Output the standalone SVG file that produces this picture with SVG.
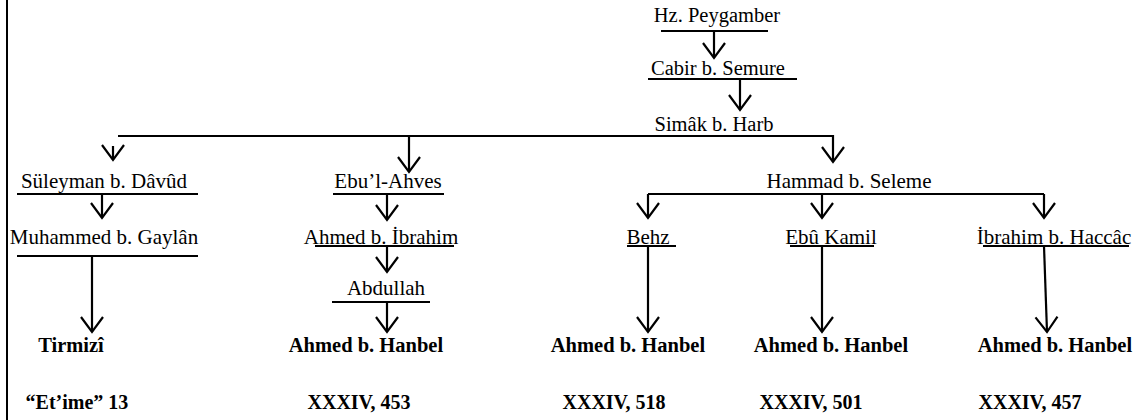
<svg xmlns="http://www.w3.org/2000/svg" width="1139" height="420" viewBox="0 0 1139 420">
<defs>
<marker id="v" markerUnits="userSpaceOnUse" markerWidth="30" markerHeight="30" refX="0" refY="0" orient="auto" overflow="visible" viewBox="-20 -15 30 30">
<path d="M-15,-11 L0,0 L-15,11" fill="none" stroke="#000" stroke-width="2.2"/>
</marker>
<style>
text{font-family:"Liberation Serif","Times New Roman",serif;font-size:21px;fill:#000;text-anchor:middle}
.t{font-size:20.5px}
.b{font-weight:bold;font-size:20.5px}
.r{font-weight:bold;font-size:20px}
.u{stroke:#000;stroke-width:2;fill:none}
.c{stroke:#000;stroke-width:2.2;fill:none}
.a{marker-end:url(#v)}
</style>
</defs>
<rect width="1139" height="420" fill="#fff"/>
<line x1="7" y1="0" x2="7" y2="420" stroke="#000" stroke-width="2"/>

<g id="connectors">
<line class="c a" x1="714" y1="31" x2="714" y2="58"/>
<line class="c a" x1="740" y1="79" x2="740" y2="110"/>
<polyline class="c a" points="118,136 833,136 833,162"/>
<line class="c a" x1="113" y1="146" x2="113" y2="160"/>
<line class="c a" x1="409" y1="136" x2="409" y2="172"/>
<line class="c a" x1="102" y1="194" x2="102" y2="218"/>
<line class="c a" x1="387" y1="194" x2="387" y2="220"/>
<polyline class="c a" points="648,194 648,218"/>
<line class="c" x1="648" y1="194" x2="1044" y2="194"/>
<line class="c a" x1="822" y1="194" x2="822" y2="218"/>
<line class="c a" x1="1044" y1="194" x2="1044" y2="218"/>
<line class="c a" x1="387" y1="246" x2="387" y2="272"/>
<line class="c a" x1="387" y1="302" x2="387" y2="332"/>
<line class="c a" x1="92" y1="256" x2="92" y2="332"/>
<line class="c a" x1="648" y1="246" x2="648" y2="332"/>
<line class="c a" x1="822" y1="246" x2="822" y2="332"/>
<line class="c a" x1="1044" y1="246" x2="1047" y2="332"/>
</g>

<g id="n1"><text class="t" x="717" y="22">Hz. Peygamber</text><line class="u" x1="661" y1="31" x2="768" y2="31"/></g>
<g id="n2"><text class="t" x="718" y="75">Cabir b. Semure</text><line class="u" x1="648" y1="79" x2="797" y2="79"/></g>
<g id="n3"><text class="t" x="714" y="131">Simâk b. Harb</text></g>
<g id="n4"><text x="104" y="188">Süleyman b. Dâvûd</text><line class="u" x1="17" y1="194" x2="198" y2="194"/></g>
<g id="n5"><text x="388" y="188">Ebu’l-Ahves</text><line class="u" x1="333" y1="194" x2="444" y2="194"/></g>
<g id="n6"><text x="849" y="188">Hammad b. Seleme</text></g>
<g id="n7"><text x="104" y="244">Muhammed b. Gaylân</text><line class="u" x1="17" y1="256" x2="198" y2="256"/></g>
<g id="n8"><text x="381" y="244">Ahmed b. İbrahim</text><line class="u" x1="315" y1="246" x2="454" y2="246"/></g>
<g id="n9"><text x="648" y="244">Behz</text><line class="u" x1="627" y1="246" x2="676" y2="246"/></g>
<g id="n10"><text x="831" y="244">Ebû Kamil</text><line class="u" x1="790" y1="246" x2="874" y2="246"/></g>
<g id="n11"><text x="1054" y="244">İbrahim b. Haccâc</text><line class="u" x1="983" y1="246" x2="1129" y2="246"/></g>
<g id="n12"><text x="386" y="295">Abdullah</text><line class="u" x1="332" y1="302" x2="430" y2="302"/></g>
<g id="n13"><text class="b" x="71" y="352">Tirmizî</text><text class="r" x="77" y="409">“Et’ime” 13</text></g>
<g id="n14"><text class="b" x="366" y="352">Ahmed b. Hanbel</text><text class="r" x="359" y="409">XXXIV, 453</text></g>
<g id="n15"><text class="b" x="628" y="352">Ahmed b. Hanbel</text><text class="r" x="614" y="409">XXXIV, 518</text></g>
<g id="n16"><text class="b" x="831" y="352">Ahmed b. Hanbel</text><text class="r" x="811" y="409">XXXIV, 501</text></g>
<g id="n17"><text class="b" x="1055" y="352">Ahmed b. Hanbel</text><text class="r" x="1030" y="409">XXXIV, 457</text></g>
</svg>
